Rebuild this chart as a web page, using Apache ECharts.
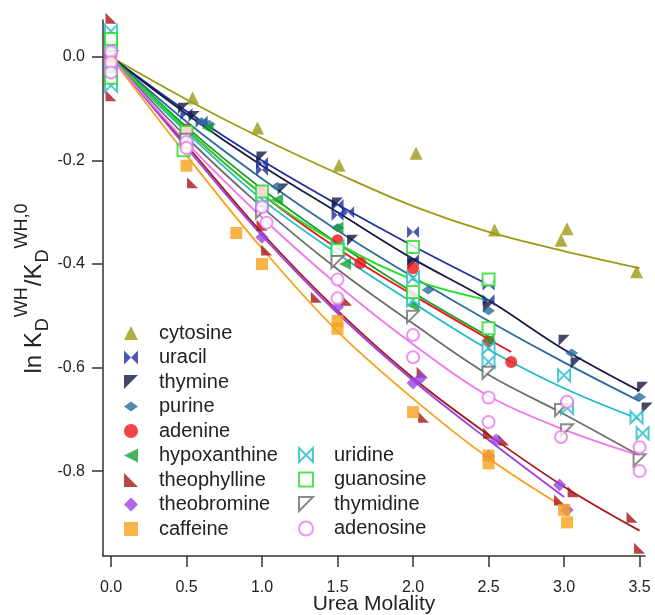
<!DOCTYPE html>
<html>
<head>
<meta charset="utf-8">
<script src="https://cdn.jsdelivr.net/npm/echarts@6/dist/echarts.min.js"></script>
<style>html,body{margin:0;padding:0;background:#fff}#c{width:655px;height:615px}</style>
</head>
<body>
<div id="c"></div>
<script>
// ---------- data ----------
const xTicks = [0, 0.5, 1.0, 1.5, 2.0, 2.5, 3.0, 3.5];
const yTicks = [-0.8, -0.6, -0.4, -0.2, 0.0];
const names = ['cytosine','uracil','thymine','purine','adenine','hypoxanthine','theophylline','theobromine','caffeine','uridine','guanosine','thymidine','adenosine'];

const cytosine = [[0,0],[0.54,-0.079],[0.97,-0.137],[1.51,-0.209],[2.02,-0.186],[2.54,-0.334],[2.98,-0.354],[3.02,-0.332],[3.48,-0.415]];
const uracil = [[0,0],[0.5,-0.11],[0.6,-0.125],[1.0,-0.205],[1.0,-0.218],[1.5,-0.286],[1.57,-0.30],[1.5,-0.305],[2.0,-0.338],[2.0,-0.392],[2.5,-0.44],[2.5,-0.47]];
const thymine = [[0,0],[0.48,-0.099],[0.55,-0.115],[1.0,-0.193],[1.14,-0.255],[1.5,-0.282],[1.6,-0.354],[2.0,-0.40],[2.5,-0.483],[3.0,-0.547],[3.08,-0.591],[3.52,-0.638],[3.55,-0.678]];
const purine = [[0,0],[0.6,-0.125],[0.65,-0.13],[1.1,-0.25],[1.5,-0.33],[2.1,-0.45],[2.5,-0.49],[3.05,-0.572],[3.5,-0.657]];
const adenine = [[0,0],[0.5,-0.14],[1.0,-0.26],[1.5,-0.354],[1.65,-0.398],[2.0,-0.408],[2.5,-0.55],[2.65,-0.589]];
const hypoxanthine = [[0,0],[0.64,-0.137],[1.1,-0.276],[1.5,-0.33],[1.55,-0.40],[2.0,-0.48],[2.5,-0.547]];
const theophylline = [[0,0.075],[0,-0.075],[0.54,-0.243],[1.0,-0.325],[1.03,-0.373],[1.36,-0.464],[1.56,-0.47],[2.06,-0.609],[2.07,-0.696],[2.5,-0.727],[2.6,-0.74],[2.97,-0.856],[3.06,-0.84],[3.45,-0.889],[3.5,-0.949]];
const theobromine = [[0,0],[0.5,-0.175],[1.0,-0.348],[1.5,-0.483],[2.0,-0.63],[2.05,-0.62],[2.5,-0.771],[2.55,-0.74],[2.97,-0.827],[3.02,-0.875]];
const caffeine = [[0,0],[0.5,-0.21],[0.83,-0.34],[1.0,-0.40],[1.5,-0.51],[1.5,-0.525],[2.0,-0.686],[2.5,-0.77],[2.5,-0.785],[3.0,-0.875],[3.02,-0.899]];
const uridine = [[0,0.05],[0,0.02],[0,-0.03],[0,-0.055],[0.5,-0.16],[1.0,-0.286],[1.5,-0.367],[2.0,-0.427],[2.0,-0.47],[2.5,-0.562],[2.5,-0.589],[3.0,-0.615],[3.02,-0.678],[3.48,-0.696],[3.52,-0.727]];
const guanosine = [[0,0.035],[0,-0.04],[0.5,-0.145],[0.48,-0.18],[1.0,-0.26],[1.5,-0.373],[2.0,-0.367],[2.0,-0.454],[2.5,-0.43],[2.5,-0.524]];
const thymidine = [[0,0],[0.5,-0.16],[1.0,-0.30],[1.5,-0.396],[2.0,-0.502],[2.5,-0.61],[2.98,-0.682],[3.02,-0.721],[3.5,-0.779]];
const adenosine = [[0,0.01],[0,-0.01],[0,-0.03],[0.5,-0.164],[0.5,-0.176],[1.0,-0.29],[1.03,-0.32],[1.5,-0.43],[1.5,-0.466],[2.0,-0.537],[2.0,-0.58],[2.5,-0.658],[2.5,-0.705],[3.02,-0.666],[2.98,-0.734],[3.5,-0.754],[3.5,-0.80]];

// fitted curves (values read at these molalities)
const fitX = [0, 0.5, 1.0, 1.5, 2.0, 2.5, 3.0, 3.5];
const cytosineFit = [0,-0.082,-0.157,-0.225,-0.288,-0.338,-0.375,-0.408];
const uracilFit = [0,-0.105,-0.2,-0.285,-0.365,-0.44];
const thymineFit = [0,-0.11,-0.21,-0.30,-0.39,-0.47,-0.565,-0.645];
const purineFit = [0,-0.125,-0.235,-0.335,-0.425,-0.51,-0.59,-0.665];
const adenineFit = [0,-0.14,-0.265,-0.37,-0.46,-0.545];
const adenineFitEnd = [2.65,-0.57];
const hypoxanthineFit = [0,-0.135,-0.255,-0.36,-0.455,-0.54];
const theophyllineFit = [0,-0.17,-0.34,-0.49,-0.62,-0.73,-0.83,-0.915];
const theobromineFit = [0,-0.175,-0.345,-0.495,-0.625,-0.74,-0.85];
const caffeineFit = [0,-0.19,-0.37,-0.53,-0.66,-0.775,-0.87];
const uridineFit = [0,-0.145,-0.275,-0.38,-0.475,-0.565,-0.64,-0.70];
const guanosineFit = [0,-0.14,-0.265,-0.36,-0.43,-0.47];
const thymidineFit = [0,-0.155,-0.29,-0.41,-0.515,-0.614,-0.69,-0.77];
const adenosineFit = [0,-0.165,-0.31,-0.44,-0.555,-0.655,-0.72,-0.77];

// ---------- styles ----------
const FONT = '"Liberation Sans", Arial, Helvetica, sans-serif';
const P_BOWTIE = 'path://M0,0L5,5L0,10Z M10,0L5,5L10,10Z';
const P_BOWTIE_H = 'path://M0,0L5,5L0,10L0,0Z M10,0L5,5L10,10L10,0Z';
const P_FLAG = 'path://M0,0L10,0L0,10Z';
const P_FLAG2 = 'path://M0,0L0,10L10,10Z';
const P_LEFT = 'path://M0,5L10,0L10,10Z';
const P_SPINDLE = 'path://M0,5L5,1.5L10,5L5,8.5Z';

const spec = {
  cytosine:     {data: cytosine, fit: cytosineFit, color:'#9c9a12', symbol:'triangle', size:13},
  uracil:       {data: uracil, fit: uracilFit, color:'#1f2f9e', symbol:P_BOWTIE, size:12},
  thymine:      {data: thymine, fit: thymineFit, color:'#151a40', symbol:P_FLAG, size:11},
  purine:       {data: purine, fit: purineFit, color:'#2b6b9c', symbol:P_SPINDLE, size:[13,9]},
  adenine:      {data: adenine, fit: adenineFit, color:'#ee1515', symbol:'circle', size:12, fitEnd: adenineFitEnd},
  hypoxanthine: {data: hypoxanthine, fit: hypoxanthineFit, color:'#16a030', symbol:P_LEFT, size:12},
  theophylline: {data: theophylline, fit: theophyllineFit, color:'#a81818', symbol:P_FLAG2, size:11},
  theobromine:  {data: theobromine, fit: theobromineFit, color:'#9a42e2', symbol:'diamond', size:13},
  caffeine:     {data: caffeine, fit: caffeineFit, color:'#f8a11c', symbol:'rect', size:12},
  uridine:      {data: uridine, fit: uridineFit, color:'#22bcc8', symbol:P_BOWTIE_H, size:12, hollow:true},
  guanosine:    {data: guanosine, fit: guanosineFit, color:'#26dc26', symbol:'rect', size:12, hollow:true},
  thymidine:    {data: thymidine, fit: thymidineFit, color:'#6e6e6e', symbol:P_FLAG, size:12, hollow:true},
  adenosine:    {data: adenosine, fit: adenosineFit, color:'#ee77ee', symbol:'circle', size:12, hollow:true}
};

const series = [];
names.forEach(n => {
  const s = spec[n];
  const fitData = s.fit.map((v, i) => [fitX[i], v]);
  if (s.fitEnd) fitData.push(s.fitEnd);
  series.push({
    name: n + ' fit', type: 'line', data: fitData, smooth: 0.35, showSymbol: false, symbol: 'none',
    lineStyle: {color: s.color, width: 1.8}, itemStyle: {color: s.color}, z: 2, silent: true, animation: false
  });
});
names.forEach(n => {
  const s = spec[n];
  series.push({
    name: n, type: 'scatter', data: s.data, symbol: s.symbol, symbolSize: s.size, clip: false,
    itemStyle: s.hollow ? {color: '#ffffff', borderColor: s.color, borderWidth: 2} : {color: s.color},
    z: 5, animation: false
  });
});

const legendCommon = {
  orient: 'vertical', itemWidth: 14, itemHeight: 14, itemGap: 4.5,
  textStyle: {fontFamily: FONT, fontSize: 20, color: '#222', lineHeight: 20, padding: [0,0,0,16]},
  selectedMode: false
};

const chart = echarts.init(document.getElementById('c'), null, {renderer: 'canvas'});
chart.setOption({
  animation: false,
  backgroundColor: '#ffffff',
  grid: {left: 103, top: 20, width: 542, height: 536, containLabel: false, outerBoundsMode: 'none'},
  legend: [
    Object.assign({}, legendCommon, {left: 119, top: 318, data: names.slice(0, 9)}),
    Object.assign({}, legendCommon, {left: 293, top: 440, data: names.slice(9)})
  ],
  xAxis: {
    type: 'value', min: -0.053, max: 3.536,
    name: 'Urea Molality', nameLocation: 'middle', nameGap: 38, nameMoveOverlap: false,
    nameTextStyle: {fontFamily: FONT, fontSize: 21, color: '#222'},
    axisLine: {onZero: false, lineStyle: {color: '#333', width: 1.5}},
    axisTick: {show: true, length: 11, inside: false, lineStyle: {color: '#333', width: 1.5}, customValues: xTicks},
    axisLabel: {fontFamily: FONT, fontSize: 16, color: '#222', margin: 24, customValues: xTicks,
      formatter: v => v.toFixed(1)},
    splitLine: {show: false}
  },
  yAxis: {
    type: 'value', min: -0.964, max: 0.0715,
    name: '{n|ln K}{sub|D}{sup|WH}{n|/K}{sub|D}{sup|WH,0}',
    nameLocation: 'middle', nameGap: 48, nameRotate: 90, nameMoveOverlap: false,
    nameTextStyle: {fontFamily: FONT, fontSize: 24, color: '#222',
      rich: {
        n: {fontFamily: FONT, fontSize: 24, color: '#222', lineHeight: 42, verticalAlign: 'middle'},
        sub: {fontFamily: FONT, fontSize: 18, color: '#222', lineHeight: 42, verticalAlign: 'bottom', padding: [0,1,3,1]},
        sup: {fontFamily: FONT, fontSize: 18, color: '#222', lineHeight: 42, verticalAlign: 'top', padding: [0,1,0,0]}
      }},
    axisLine: {onZero: false, lineStyle: {color: '#333', width: 1.5}},
    axisTick: {show: true, length: 11, inside: false, lineStyle: {color: '#333', width: 1.5}, customValues: yTicks},
    axisLabel: {fontFamily: FONT, fontSize: 16, color: '#222', margin: 18, customValues: yTicks,
      formatter: v => (Math.abs(v) < 1e-9 ? 0 : v).toFixed(1)},
    splitLine: {show: false}
  },
  series: series
});
</script>
</body>
</html>
